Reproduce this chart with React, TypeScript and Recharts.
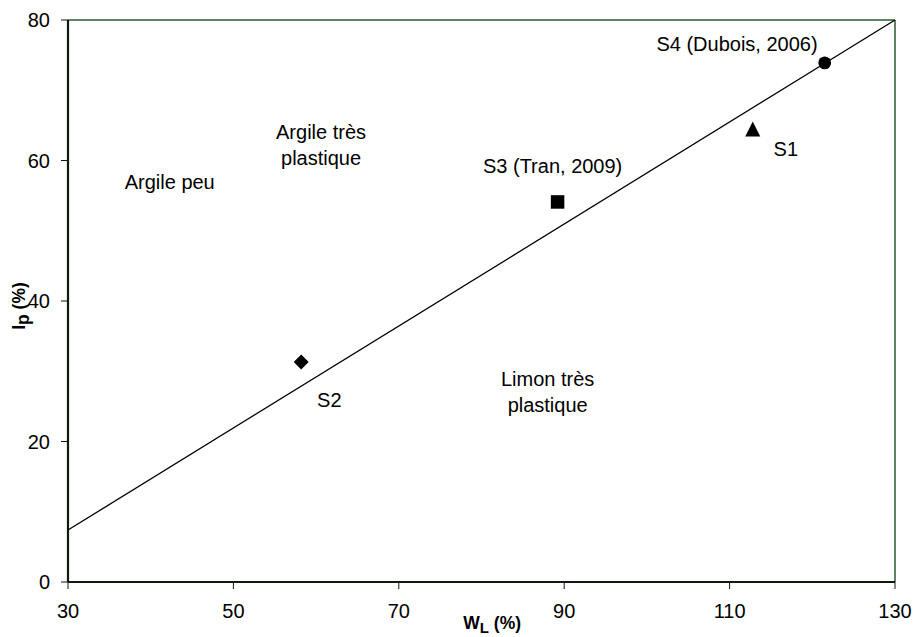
import React from 'react';
import { ScatterChart, Scatter, XAxis, YAxis, ReferenceLine, Label } from 'recharts';

// Axis ticks
const xTicks = [30, 50, 70, 90, 110, 130];
const yTicks = [0, 20, 40, 60, 80];

// Samples (W_L %, Ip %)
const sampleNames = ['S1', 'S2', 'S3', 'S4'];
const sampleWL = [112.8, 58.2, 89.2, 121.5];
const sampleIp = [64.5, 31.3, 54.1, 73.9];
const sampleMarkers = ['triangle', 'diamond', 'square', 'circle'];

// A-line end points
const aLineWL = [30, 130];
const aLineIp = [7.4, 80];

// Text annotations placed in data space ("|" = line break)
const annotationTexts = [
  'Argile peu',
  'Argile très|plastique',
  'Limon très|plastique',
  'S1',
  'S2',
  'S3 (Tran, 2009)',
  'S4 (Dubois, 2006)',
];
const annotationWL = [42.3, 60.6, 88.0, 116.8, 61.6, 88.6, 110.9];
const annotationIp = [56.9, 62.2, 27.1, 61.7, 25.9, 59.3, 76.6];

const FONT = '"Liberation Sans", Arial, Helvetica, sans-serif';
const AXIS_COLOR = '#101810';
const FRAME_COLOR = '#2d5a2d';

const sampleData = sampleNames.map((n, i) => ({ name: n, x: sampleWL[i], y: sampleIp[i], marker: sampleMarkers[i] }));
const aLineData = aLineWL.map((x, i) => ({ x, y: aLineIp[i] }));
const annotationData = annotationTexts.map((t, i) => ({ text: t, x: annotationWL[i], y: annotationIp[i] }));

const MarkerShape = (props: any) => {
  const { cx, cy, payload } = props;
  if (cx == null || cy == null) return <g />;
  switch (payload.marker) {
    case 'circle':
      return <circle cx={cx} cy={cy} r={6.4} fill="#000" />;
    case 'square':
      return <rect x={cx - 6.75} y={cy - 6.75} width={13.5} height={13.5} fill="#000" />;
    case 'triangle':
      return <polygon points={`${cx},${cy - 7.5} ${cx + 7.5},${cy + 7.5} ${cx - 7.5},${cy + 7.5}`} fill="#000" />;
    case 'diamond':
      return <polygon points={`${cx},${cy - 7.5} ${cx + 7.5},${cy} ${cx},${cy + 7.5} ${cx - 7.5},${cy}`} fill="#000" />;
    default:
      return <g />;
  }
};

const AnnotationShape = (props: any) => {
  const { cx, cy, payload } = props;
  if (cx == null || cy == null) return <g />;
  const lines: string[] = payload.text.split('|');
  const lh = 25.5;
  const startY = cy - ((lines.length - 1) * lh) / 2;
  return (
    <text textAnchor="middle" fontSize={20} fontFamily={FONT} fill="#000">
      {lines.map((l, i) => (
        <tspan key={i} x={cx} y={startY + i * lh} dy="0.36em">
          {l}
        </tspan>
      ))}
    </text>
  );
};

const EmptyShape = () => <g />;

const XTitle = (props: any) => {
  const vb = props.viewBox || { x: 0, y: 0, width: 0, height: 0 };
  const x = vb.x + vb.width * 0.478;
  const y = vb.y + 47;
  return (
    <text x={x} y={y} style={{ fontSize: 17.5, fontWeight: 'bold', fontFamily: FONT }} fill="#000" textAnchor="start">
      <tspan style={{ fontSize: 17.5 }}>W</tspan>
      <tspan dy={4} style={{ fontSize: 15 }}>L</tspan>
      <tspan dy={-4} style={{ fontSize: 17.5 }}> (%)</tspan>
    </text>
  );
};

const YTitle = (props: any) => {
  const vb = props.viewBox || { x: 0, y: 0, width: 0, height: 0 };
  const x = vb.x + 17;
  const y = vb.y + vb.height / 2 + 5;
  return (
    <text
      x={x}
      y={y}
      transform={`rotate(-90, ${x}, ${y})`}
      style={{ fontSize: 17.5, fontWeight: 'bold', fontFamily: FONT }}
      fill="#000"
      textAnchor="middle"
    >
      <tspan style={{ fontSize: 17.5 }}>I</tspan>
      <tspan dy={4} style={{ fontSize: 17.5 }}>p</tspan>
      <tspan dy={-4} style={{ fontSize: 17.5 }}> (%)</tspan>
    </text>
  );
};

export default function App() {
  return (
    <div style={{ position: 'absolute', left: 0, top: 0, background: '#fff' }}>
      <ScatterChart width={914} height={637} margin={{ top: 20, right: 19, bottom: 25, left: 8 }}>
        <XAxis
          type="number"
          dataKey="x"
          domain={[30, 130]}
          ticks={xTicks}
          interval={0}
          tickSize={7}
          tickMargin={15}
          height={30}
          axisLine={{ stroke: AXIS_COLOR, strokeWidth: 2.2 }}
          tickLine={{ stroke: AXIS_COLOR, strokeWidth: 1 }}
          tick={{ fontSize: 20, fill: '#000', fontFamily: FONT }}
        >
          <Label content={<XTitle />} />
        </XAxis>
        <YAxis
          type="number"
          dataKey="y"
          domain={[0, 80]}
          ticks={yTicks}
          interval={0}
          tickSize={7}
          tickMargin={11}
          width={60}
          axisLine={{ stroke: AXIS_COLOR, strokeWidth: 2.2 }}
          tickLine={{ stroke: AXIS_COLOR, strokeWidth: 1 }}
          tick={{ fontSize: 20, fill: '#000', fontFamily: FONT }}
        >
          <Label content={<YTitle />} />
        </YAxis>
        <ReferenceLine y={80} stroke={FRAME_COLOR} strokeWidth={1.5} />
        <ReferenceLine x={130} stroke={FRAME_COLOR} strokeWidth={1.5} />
        <Scatter
          data={aLineData}
          line={{ stroke: '#000', strokeWidth: 1.3 }}
          lineType="joint"
          shape={<EmptyShape />}
          isAnimationActive={false}
        />
        <Scatter data={sampleData} shape={<MarkerShape />} isAnimationActive={false} />
        <Scatter data={annotationData} shape={<AnnotationShape />} isAnimationActive={false} />
      </ScatterChart>
    </div>
  );
}
